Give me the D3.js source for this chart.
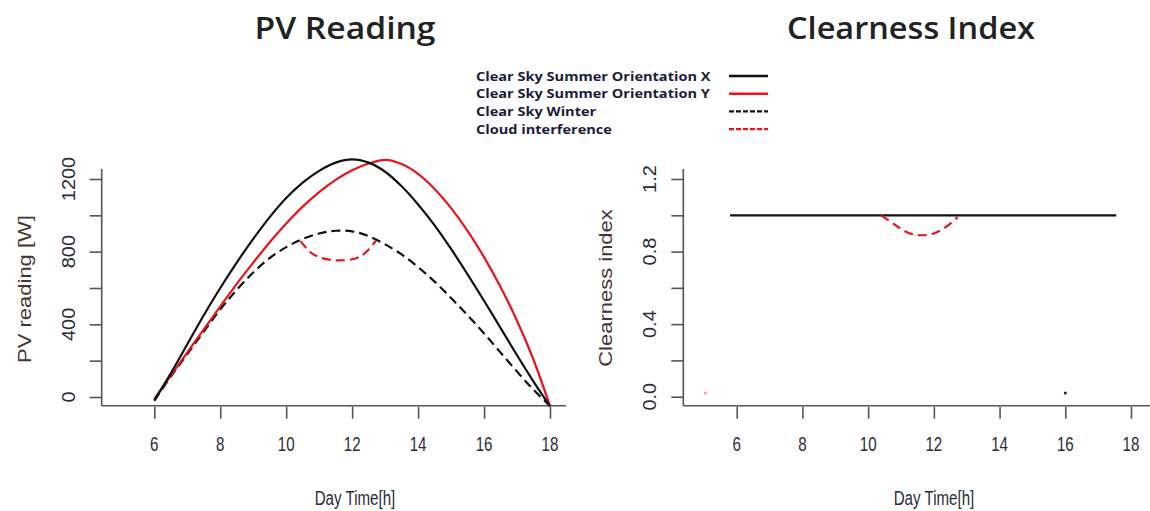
<!DOCTYPE html>
<html>
<head>
<meta charset="utf-8">
<script src="https://cdn.jsdelivr.net/npm/d3@7"></script>
<style>
  body { margin: 0; background: #fff; }
  svg { display: block; }
  .tick-label { font-family: "Liberation Sans", Arial, sans-serif; fill: #2b2b3a; }
  .title { font-family: "Open Sans", "Noto Sans", sans-serif; font-weight: 600; fill: #222; }
  .legend-text { font-family: "Open Sans", "Noto Sans", sans-serif; font-weight: 700; fill: #1c1c3a; }
</style>
</head>
<body>
<svg id="chart" width="1150" height="511"></svg>
<script>
// Time of day (hours) used by the PV curves
const hours = [6, 6.5, 7, 7.5, 8, 8.5, 9, 9.5, 10, 10.5, 11, 11.5, 12,
               12.5, 13, 13.5, 14, 14.5, 15, 15.5, 16, 16.5, 17, 17.5, 18];

// PV output [W], clear sky summer, orientation X
const summerX = [-20, 130, 290, 450, 600, 740, 870, 990, 1095, 1180, 1245, 1290, 1308,
                 1290, 1240, 1160, 1060, 945, 815, 675, 530, 380, 230, 85, -50];
// PV output [W], clear sky summer, orientation Y
const summerY = [-10, 118, 245, 372, 498, 623, 740, 852, 955, 1048, 1128, 1195, 1248,
                 1285, 1305, 1282, 1228, 1145, 1040, 915, 770, 605, 420, 205, -50];
// PV output [W], clear sky winter
const winter = [-20, 112, 236, 360, 482, 590, 685, 765, 825, 870, 900, 915, 912,
                885, 840, 785, 715, 635, 545, 450, 350, 245, 140, 40, -50];

// PV output [W] during the cloud passage
const cloudHours = [10.43, 10.75, 11, 11.3, 11.6, 12, 12.3, 12.5, 12.72];
const cloudPV = [858, 795, 770, 756, 752, 758, 780, 812, 860];

// Clearness index
const clearHours = [5.8, 17.55];
const clearIndex = [1.0, 1.0];
const cloudIdxHours = [10.4, 10.8, 11.2, 11.6, 12.0, 12.4, 12.72];
const cloudIndex = [1.0, 0.95, 0.905, 0.89, 0.9, 0.94, 0.99];
const strayPoints = [{ t: 16.0, v: 0.02, c: "#222" }, { t: 5.05, v: 0.02, c: "#f4a0a8" }];

// Axis ticks
const xTicks = [6, 8, 10, 12, 14, 16, 18];
const pvTicks = [0, 200, 400, 600, 800, 1000, 1200];
const pvLabels = [0, 400, 800, 1200];
const ciTicks = [0, 0.2, 0.4, 0.6, 0.8, 1.0, 1.2];
const ciLabels = [0, 0.4, 0.8, 1.2];

// Legend entries
const legendNames = ["Clear Sky Summer Orientation X", "Clear Sky Summer Orientation Y",
                     "Clear Sky Winter", "Cloud interference"];
const legendColors = ["#111", "#e8141c", "#111", "#e8141c"];
const legendDashed = [false, false, true, true];

const RED = "#e8141c", BLACK = "#111";
const svg = d3.select("#chart");

function panel(opts) {
  const g = svg.append("g");
  const x = d3.scaleLinear().domain([6, 18]).range(opts.xr);
  const y = d3.scaleLinear().domain(opts.yd).range(opts.yr);

  // L-shaped frame
  g.append("line").attr("x1", opts.frameX).attr("x2", opts.frameX)
    .attr("y1", opts.frameTop).attr("y2", opts.frameBottom)
    .attr("stroke", "#555").attr("stroke-width", 1.6);
  g.append("line").attr("x1", opts.frameX).attr("x2", opts.frameRight)
    .attr("y1", opts.frameBottom).attr("y2", opts.frameBottom)
    .attr("stroke", "#555").attr("stroke-width", 1.6);

  // x ticks
  const xAxis = d3.axisBottom(x).tickValues(xTicks).tickSize(12).tickFormat("");
  const xg = g.append("g").attr("transform", `translate(0,${opts.frameBottom + 1})`).call(xAxis);
  xg.select(".domain").remove();
  xg.selectAll(".tick line").attr("stroke", "#555").attr("stroke-width", 1.6);
  g.selectAll(".xlab").data(xTicks).join("text")
    .attr("class", "tick-label")
    .attr("transform", d => `translate(${x(d)},451) scale(0.72,1)`)
    .attr("text-anchor", "middle").attr("font-size", 21)
    .text(d => d);

  // y ticks
  const yAxis = d3.axisLeft(y).tickValues(opts.yTicks).tickSize(12).tickFormat("");
  const yg = g.append("g").attr("transform", `translate(${opts.frameX},0)`).call(yAxis);
  yg.select(".domain").remove();
  yg.selectAll(".tick line").attr("stroke", "#555").attr("stroke-width", 1.6);
  g.selectAll(".ylab").data(opts.yLabels).join("text")
    .attr("class", "tick-label")
    .attr("transform", d => `translate(${opts.frameX - 27},${y(d)}) rotate(-90) scale(1,0.9)`)
    .attr("text-anchor", "middle").attr("font-size", 20)
    .text(opts.yFormat);

  // axis titles
  g.append("text").attr("class", "tick-label")
    .attr("transform", `translate(${opts.xTitleX},505) scale(0.72,1)`)
    .attr("text-anchor", "middle").attr("font-size", 21)
    .attr("fill", "#2b2b3a").text("Day Time[h]");
  g.append("text")
    .attr("transform", `translate(${opts.yTitleX},${opts.yTitleY}) rotate(-90) scale(1,0.8)`)
    .attr("text-anchor", "middle").attr("font-size", 22)
    .attr("font-family", "Liberation Sans, Arial, sans-serif")
    .attr("fill", "#4a3333").text(opts.yTitle);

  // chart title
  g.append("text").attr("class", "title")
    .attr("x", opts.titleX).attr("y", 39)
    .attr("text-anchor", "middle").attr("font-size", 30)
    .attr("textLength", opts.titleW).attr("lengthAdjust", "spacingAndGlyphs")
    .text(opts.title);

  return { g, x, y };
}

function drawLine(p, xs, ys, color, dashed) {
  const pts = xs.map((t, i) => [t, ys[i]]);
  const line = d3.line().x(d => p.x(d[0])).y(d => p.y(d[1])).curve(d3.curveCatmullRom.alpha(0.5));
  p.g.append("path").datum(pts)
    .attr("d", line)
    .attr("fill", "none")
    .attr("stroke", color)
    .attr("stroke-width", 2.2)
    .attr("stroke-dasharray", dashed ? "9,5" : null);
}

// Left panel: PV reading
const pv = panel({
  xr: [154.3, 550], yd: [0, 1200], yr: [397, 179],
  frameX: 101.7, frameTop: 169, frameBottom: 405.7, frameRight: 566,
  yTicks: pvTicks, yLabels: pvLabels, yFormat: d => d,
  xTitleX: 355, yTitleX: 31, yTitleY: 289, yTitle: "PV reading [W]",
  titleX: 345, titleW: 181, title: "PV Reading"
});
drawLine(pv, hours, winter, BLACK, true);
drawLine(pv, hours, summerY, RED, false);
drawLine(pv, hours, summerX, BLACK, false);
drawLine(pv, cloudHours, cloudPV, RED, true);

// Right panel: clearness index
const ci = panel({
  xr: [736.7, 1131], yd: [0, 1.2], yr: [396.7, 179],
  frameX: 683.3, frameTop: 169, frameBottom: 405.7, frameRight: 1150,
  yTicks: ciTicks, yLabels: ciLabels, yFormat: d => d.toFixed(1),
  xTitleX: 934, yTitleX: 612, yTitleY: 288, yTitle: "Clearness index",
  titleX: 911, titleW: 248, title: "Clearness Index"
});
drawLine(ci, clearHours, clearIndex, BLACK, false);
drawLine(ci, cloudIdxHours, cloudIndex, RED, true);
ci.g.selectAll(".stray").data(strayPoints).join("circle")
  .attr("cx", d => ci.x(d.t)).attr("cy", d => ci.y(d.v))
  .attr("r", 1.5).attr("fill", d => d.c);

// Legend
const lg = svg.append("g");
legendNames.forEach((name, i) => {
  const yy = 76 + i * 17.7;
  lg.append("text").attr("class", "legend-text")
    .attr("transform", `translate(476,${yy + 4.5}) scale(1.12,1)`)
    .attr("font-size", 13)
    .text(name);
  lg.append("line").attr("x1", 729).attr("x2", 768)
    .attr("y1", yy).attr("y2", yy)
    .attr("stroke", legendColors[i]).attr("stroke-width", 2.4)
    .attr("stroke-dasharray", legendDashed[i] ? "5,2" : null);
});
</script>
</body>
</html>
